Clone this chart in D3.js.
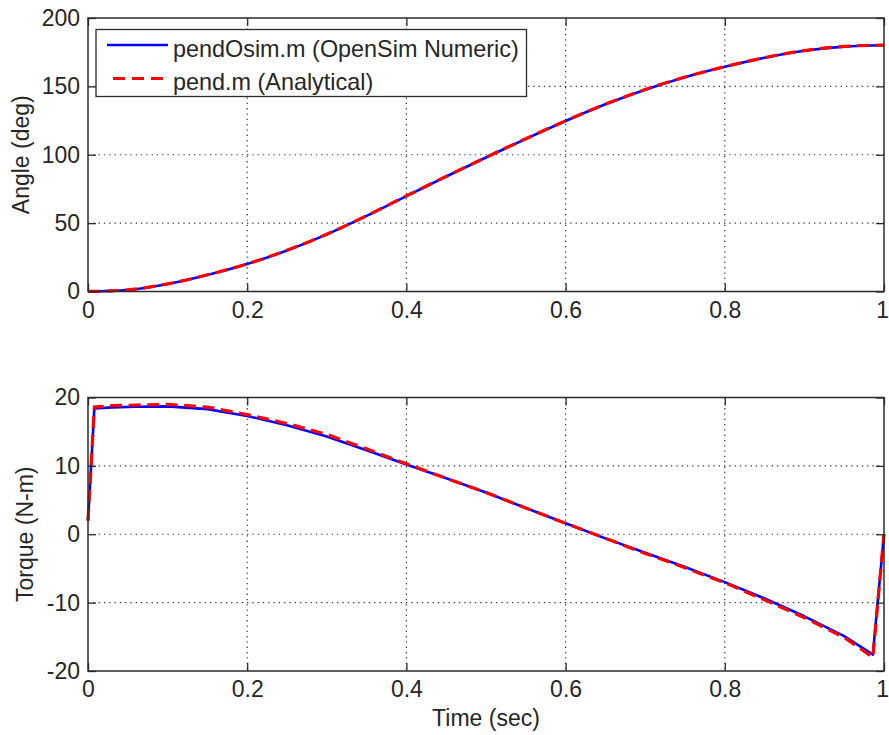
<!DOCTYPE html>
<html>
<head>
<meta charset="utf-8">
<script src="https://cdn.jsdelivr.net/npm/d3@7"></script>
<style>
  html, body { margin: 0; padding: 0; background: #fff; }
  svg { display: block; }
  text { font-family: "Liberation Sans", Arial, Helvetica, sans-serif; fill: #262626; }
</style>
</head>
<body>
<svg id="chart" width="889" height="735"></svg>
<script>
// ---- Data ----
const seriesNames = ["pendOsim.m (OpenSim Numeric)", "pend.m (Analytical)"];

const angleTime = [0, 0.05, 0.1, 0.15, 0.2, 0.25, 0.3, 0.35, 0.4, 0.45, 0.5, 0.55, 0.6, 0.65, 0.7, 0.75, 0.8, 0.85, 0.9, 0.95, 1.0];
const angleNumeric    = [0, 1.1, 5.5, 12.1, 20.1, 30.0, 41.8, 55.3, 69.8, 84.1, 98.0, 111.6, 124.7, 136.9, 147.6, 156.7, 164.3, 170.9, 176.1, 179.1, 180.1];
const angleAnalytical = [0, 1.2, 5.6, 12.2, 20.2, 30.1, 41.9, 55.4, 69.9, 84.2, 98.1, 111.7, 124.8, 137.0, 147.7, 156.8, 164.4, 171.0, 176.2, 179.2, 180.2];

const torqueTime = [0, 0.008, 0.03, 0.06, 0.1, 0.15, 0.2, 0.25, 0.3, 0.35, 0.4, 0.45, 0.5, 0.55, 0.6, 0.65, 0.7, 0.75, 0.8, 0.85, 0.9, 0.95, 0.986, 1.0];
const torqueNumeric    = [2.0, 18.4, 18.55, 18.65, 18.7, 18.3, 17.3, 15.95, 14.3, 12.3, 10.2, 8.2, 6.1, 3.85, 1.6, -0.6, -2.7, -4.8, -7.0, -9.4, -12.0, -14.9, -17.6, 0];
const torqueAnalytical = [2.0, 18.6, 18.8, 18.9, 19.0, 18.6, 17.5, 16.2, 14.6, 12.5, 10.3, 8.2, 6.1, 3.85, 1.6, -0.6, -2.8, -4.9, -7.1, -9.6, -12.2, -15.1, -18.0, 0];

const xTicks = [0, 0.2, 0.4, 0.6, 0.8, 1];
const angleTicks = [0, 50, 100, 150, 200];
const torqueTicks = [-20, -10, 0, 10, 20];

const xLabel = "Time (sec)";
const angleLabel = "Angle (deg)";
const torqueLabel = "Torque (N-m)";

// ---- Layout ----
const svg = d3.select("#chart");
const left = 88, right = 884;
const FONT = 23;
const axisColor = "#2b2b2b";

const x = d3.scaleLinear().domain([0, 1]).range([left, right]);
const yTop = d3.scaleLinear().domain([0, 200]).range([291.5, 18]);
const yBot = d3.scaleLinear().domain([-20, 20]).range([671, 397.5]);

const fmtX = d => (d === 0 || d === 1) ? String(d) : d.toFixed(1);
const fmtY = d => String(d);

function panel(y, yTicks, tData, s1, s2, yTitle, yTitleX, curveType) {
  const g = svg.append("g");
  const [y0, y1] = y.range();

  // grid
  g.append("g").selectAll("line").data(xTicks.filter(d => d > 0 && d < 1)).join("line")
    .attr("x1", d => x(d)).attr("x2", d => x(d)).attr("y1", y1).attr("y2", y0)
    .attr("stroke", "#333").attr("stroke-width", 1.2).attr("stroke-dasharray", "1.3,4");
  g.append("g").selectAll("line").data(yTicks.filter(d => d > y.domain()[0] && d < y.domain()[1])).join("line")
    .attr("x1", left).attr("x2", right).attr("y1", d => y(d)).attr("y2", d => y(d))
    .attr("stroke", "#333").attr("stroke-width", 1.2).attr("stroke-dasharray", "1.3,4");

  // lines
  const line = d3.line().x((d, i) => x(tData[i])).y(d => y(d)).curve(curveType);
  g.append("path").datum(s1).attr("d", line)
    .attr("fill", "none").attr("stroke", "#0000ff").attr("stroke-width", 2.6)
    .attr("stroke-linejoin", "round");
  g.append("path").datum(s2).attr("d", line)
    .attr("fill", "none").attr("stroke", "#ff0000").attr("stroke-width", 3.2)
    .attr("stroke-dasharray", "12,6.5");

  // axes (inward ticks on all sides)
  const mk = (axis, tr, labels) => {
    const a = g.append("g").attr("transform", tr).call(axis);
    a.select(".domain").remove();
    a.selectAll(".tick line").attr("stroke", axisColor).attr("stroke-width", 1.3);
    a.selectAll("text").style("font-size", FONT + "px").attr("fill", "#262626")
      .style("font-family", '"Liberation Sans", Arial, sans-serif');
    if (!labels) a.selectAll("text").remove();
    return a;
  };
  const xb = mk(d3.axisBottom(x).tickValues(xTicks).tickFormat(fmtX).tickSize(-8).tickPadding(10), `translate(0,${y0})`, true);
  // keep the last "1" label inside the page edge
  xb.selectAll("text").filter(d => d === 1).attr("text-anchor", "end").attr("dx", "4.5");
  mk(d3.axisTop(x).tickValues(xTicks).tickSize(-8), `translate(0,${y1})`, false);
  mk(d3.axisLeft(y).tickValues(yTicks).tickFormat(fmtY).tickSize(-8).tickPadding(8), `translate(${left},0)`, true);
  mk(d3.axisRight(y).tickValues(yTicks).tickSize(-8), `translate(${right},0)`, false);

  // box
  g.append("rect").attr("x", left).attr("y", y1).attr("width", right - left).attr("height", y0 - y1)
    .attr("fill", "none").attr("stroke", axisColor).attr("stroke-width", 1.5);

  // y title
  g.append("text")
    .attr("transform", `translate(${yTitleX},${(y0 + y1) / 2}) rotate(-90)`)
    .attr("text-anchor", "middle").style("font-size", FONT + "px")
    .text(yTitle);
  return g;
}

panel(yTop, angleTicks, angleTime, angleNumeric, angleAnalytical, angleLabel, 29, d3.curveMonotoneX);
panel(yBot, torqueTicks, torqueTime, torqueNumeric, torqueAnalytical, torqueLabel, 33, d3.curveLinear);

// x title
svg.append("text").attr("x", (left + right) / 2).attr("y", 726)
  .attr("text-anchor", "middle").style("font-size", FONT + "px").text(xLabel);

// legend
const lg = svg.append("g");
lg.append("rect").attr("x", 96).attr("y", 29.5).attr("width", 430.5).attr("height", 67)
  .attr("fill", "#fff").attr("stroke", axisColor).attr("stroke-width", 1.3);
const rows = [
  { name: seriesNames[0], color: "#0000ff", dash: null, w: 2.6, ly: 45, ty: 57 },
  { name: seriesNames[1], color: "#ff0000", dash: "12,7", w: 3.2, ly: 78.5, ty: 89.5 }
];
rows.forEach(r => {
  const l = lg.append("line").attr("x1", r.dash ? 113 : 107).attr("x2", 168)
    .attr("y1", r.ly).attr("y2", r.ly)
    .attr("stroke", r.color).attr("stroke-width", r.w);
  if (r.dash) l.attr("stroke-dasharray", r.dash);
  lg.append("text").attr("x", 173).attr("y", r.ty).style("font-size", "23.4px").text(r.name);
});
</script>
</body>
</html>
